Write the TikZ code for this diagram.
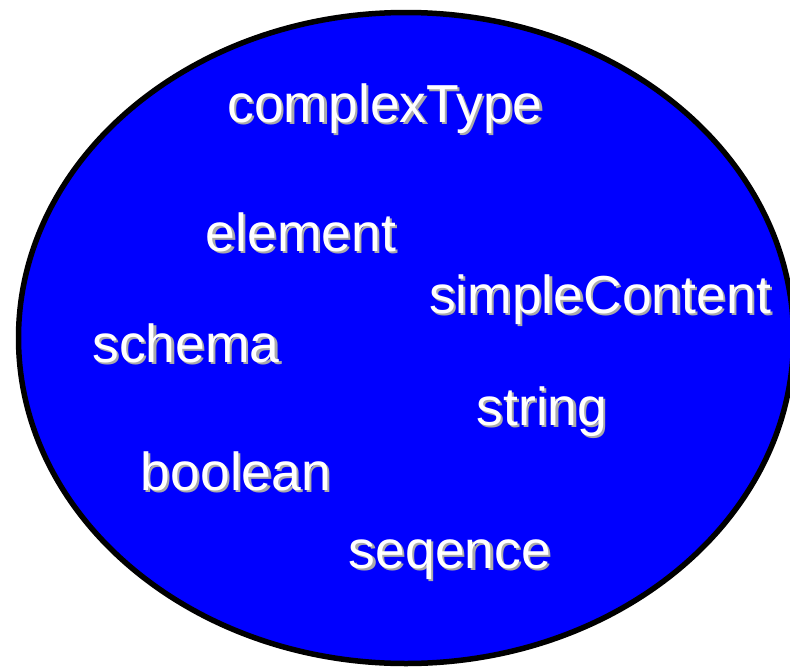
\documentclass[tikz,border=0pt]{standalone}
\usepackage{fontspec}
\setmainfont{Liberation Sans}
\usetikzlibrary{shapes.geometric}

\definecolor{shadowgray}{RGB}{170,170,170}
% white word with a soft grey drop shadow behind it
\newcommand\shadowword[1]{\makebox[0pt][l]{\hspace{2.2pt}\raisebox{-2.2pt}{\color{shadowgray}#1}}#1}

\tikzset{
  word/.style={anchor=base, inner sep=0pt, text=white,
    font=\fontsize{53.5}{60}\selectfont},
}

\begin{document}
\begin{tikzpicture}[x=1pt, y=-1pt]
  \clip (0,0) rectangle (790,667);
  \fill[white] (0,0) rectangle (790,667);

  \node (bubble) [ellipse, draw=black, fill=blue, line width=5.5pt,
    inner sep=0pt, minimum width=775pt, minimum height=651pt] at (406,338) {};

  \node[word] (complexType)   at (385,122) {\shadowword{complexType}};
  \node[word] (element)       at (301,251) {\shadowword{element}};
  \node[word] (simpleContent) at (600,313) {\shadowword{simpleContent}};
  \node[word] (schema)        at (186,362) {\shadowword{schema}};
  \node[word] (string)        at (542,425) {\shadowword{string}};
  \node[word] (boolean)       at (236,490) {\shadowword{boolean}};
  \node[word] (seqence)       at (450,568) {\shadowword{seqence}};
\end{tikzpicture}
\end{document}
